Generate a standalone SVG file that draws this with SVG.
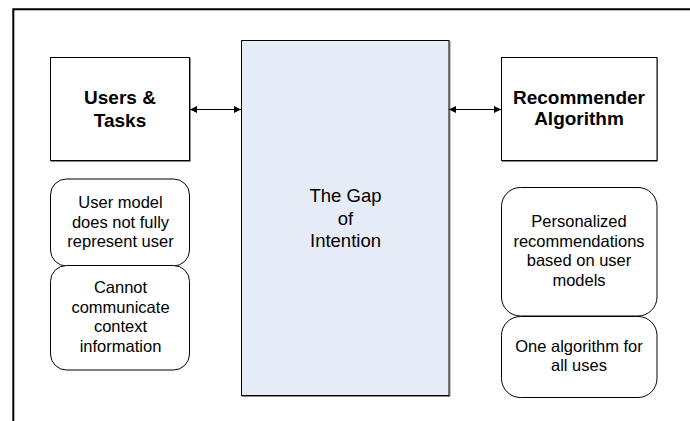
<svg xmlns="http://www.w3.org/2000/svg" width="690" height="421" viewBox="0 0 690 421">
  <style>
    .frame { fill: none; stroke: #000; stroke-width: 2; }
    .box { fill: #fff; stroke: #000; stroke-width: 1; }
    .gap { fill: #E5ECF7; stroke: #000; stroke-width: 1; }
    .shadow { fill: none; stroke: #8a8a8a; stroke-width: 1; }
    .title { font-family: "Liberation Sans", Arial, sans-serif; font-weight: bold; font-size: 19px; text-anchor: middle; fill: #000; }
    .label { font-family: "Liberation Sans", Arial, sans-serif; font-size: 16.5px; text-anchor: middle; fill: #000; }
    .big { font-family: "Liberation Sans", Arial, sans-serif; font-size: 18.5px; text-anchor: middle; fill: #000; }
    .link { stroke: #000; stroke-width: 1; fill: none; marker-start: url(#head); marker-end: url(#head); }
  </style>
  <defs>
    <marker id="head" viewBox="0 0 10 10" refX="10" refY="5" markerWidth="7" markerHeight="9" markerUnits="userSpaceOnUse" orient="auto-start-reverse">
      <path d="M0,0 L10,5 L0,10 z" fill="#000"/>
    </marker>
  </defs>

  <!-- outer frame: top and left edges -->
  <path class="frame" d="M13.3,421 V9.3 H690"/>

  <!-- centre block -->
  <g id="gap">
    <path class="shadow" d="M242,396.5 H450 V41"/>
    <rect class="gap" x="241.5" y="40.5" width="207.5" height="355"/>
    <text class="big" x="345.5" y="201.5">The Gap</text>
    <text class="big" x="345.5" y="224.5">of</text>
    <text class="big" x="345.5" y="247">Intention</text>
  </g>

  <g id="users-tasks">
    <path class="shadow" d="M51,161.5 H190.5 V58"/>
    <rect class="box" x="50.5" y="57.5" width="139" height="103"/>
    <text class="title" x="120" y="104">Users &amp;</text>
    <text class="title" x="120" y="126.5">Tasks</text>
  </g>

  <g id="recommender">
    <path class="shadow" d="M502,161.5 H657.5 V58"/>
    <rect class="box" x="501.5" y="57.5" width="155.5" height="103"/>
    <text class="title" x="579" y="104">Recommender</text>
    <text class="title" x="579" y="125">Algorithm</text>
  </g>

  <g id="user-model">
    <rect class="box" x="50.5" y="179" width="139" height="87" rx="16" ry="16"/>
    <text class="label" x="120.5" y="208.3">User model</text>
    <text class="label" x="120.5" y="227.5">does not fully</text>
    <text class="label" x="120.5" y="246.7">represent user</text>
  </g>

  <g id="context">
    <rect class="box" x="50.5" y="265.5" width="139" height="104.5" rx="16" ry="16"/>
    <text class="label" x="120.5" y="293.3">Cannot</text>
    <text class="label" x="120.5" y="312.7">communicate</text>
    <text class="label" x="120.5" y="332.3">context</text>
    <text class="label" x="120.5" y="351.7">information</text>
  </g>

  <g id="personalized">
    <rect class="box" x="501.5" y="187.5" width="155.5" height="128.5" rx="19" ry="19"/>
    <text class="label" x="579" y="226.7">Personalized</text>
    <text class="label" x="579" y="246.5">recommendations</text>
    <text class="label" x="579" y="266.3">based on user</text>
    <text class="label" x="579" y="285.7">models</text>
  </g>

  <g id="one-algorithm">
    <rect class="box" x="501.5" y="316.5" width="155.5" height="81" rx="19" ry="19"/>
    <text class="label" x="579" y="351.7">One algorithm for</text>
    <text class="label" x="579" y="371">all uses</text>
  </g>

  <g id="connectors">
    <line class="link" x1="190" y1="109.5" x2="241" y2="109.5"/>
    <line class="link" x1="449" y1="109.5" x2="501" y2="109.5"/>
  </g>
</svg>
